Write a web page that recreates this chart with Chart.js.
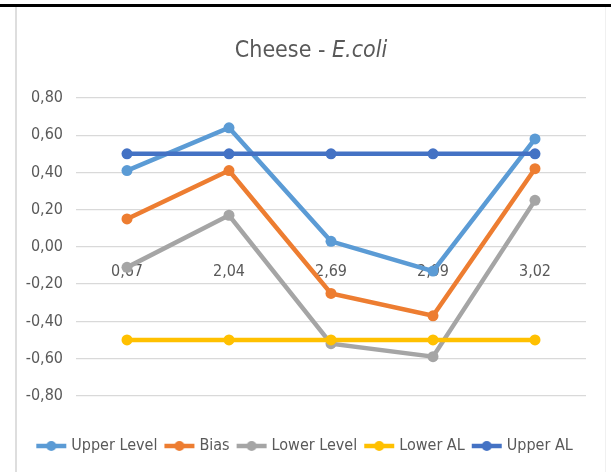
<!DOCTYPE html>
<html>
<head>
<meta charset="utf-8">
<script src="https://cdn.jsdelivr.net/npm/chart.js@4/dist/chart.umd.min.js"></script>
<style>
  html, body { margin: 0; padding: 0; background: #ffffff; }
  body { width: 611px; height: 472px; position: relative; overflow: hidden; }
  .topbar { position: absolute; left: 0; top: 4px; width: 611px; height: 3px; background: #000000; }
  .frame {
    position: absolute; left: 15px; top: 7px; width: 588px; height: 465px;
    border-left: 2px solid #dedede; border-right: 1px solid #f0f0f0;
  }
  .frame canvas { position: absolute; left: 0; top: 0; }
  .title {
    position: absolute; left: 0; right: 0; top: 27px; text-align: center;
    font-family: 'Liberation Sans Narrow', 'DejaVu Sans Condensed', sans-serif;
    font-size: 23px; line-height: 30px; color: #595959;
  }
</style>
</head>
<body>
<div class="topbar"></div>
<div class="frame">
  <canvas id="chart" width="588" height="465"></canvas>
  <div class="title">Cheese - <i>E.coli</i></div>
</div>
<script>
// Categories (x axis) and series values
const categories = ['0,67', '2,04', '2,69', '2,99', '3,02'];
const upperLevel = [0.41, 0.64, 0.03, -0.13, 0.58];
const bias       = [0.15, 0.41, -0.25, -0.37, 0.42];
const lowerLevel = [-0.11, 0.17, -0.52, -0.59, 0.25];
const lowerAL    = [-0.50, -0.50, -0.50, -0.50, -0.50];
const upperAL    = [0.50, 0.50, 0.50, 0.50, 0.50];
const seriesNames = ['Upper Level', 'Bias', 'Lower Level', 'Lower AL', 'Upper AL'];
const yTicks = [-0.8, -0.6, -0.4, -0.2, 0, 0.2, 0.4, 0.6, 0.8];

const colors = ['#5B9BD5', '#ED7D31', '#A5A5A5', '#FFC000', '#4472C4'];
const seriesValues = [upperLevel, bias, lowerLevel, lowerAL, upperAL];
const FONT = "'Liberation Sans Narrow', 'DejaVu Sans Condensed', sans-serif";

// Legend marker: short line with a dot in the middle
function lineMarker(color) {
  const c = document.createElement('canvas');
  c.width = 32; c.height = 12;
  const g = c.getContext('2d');
  g.strokeStyle = color; g.lineWidth = 4.5;
  g.beginPath(); g.moveTo(1, 6); g.lineTo(31, 6); g.stroke();
  g.fillStyle = color;
  g.beginPath(); g.arc(16, 6, 5, 0, Math.PI * 2); g.fill();
  return c;
}
const markers = colors.map(lineMarker);

const datasets = seriesNames.map((name, i) => ({
  label: name,
  data: seriesValues[i],
  borderColor: colors[i],
  backgroundColor: colors[i],
  pointBackgroundColor: colors[i],
  pointBorderColor: colors[i],
  borderWidth: 4.5,
  pointRadius: 5.5,
  pointBorderWidth: 0,
  tension: 0,
  // later series are painted on top
  order: seriesNames.length - i
}));

new Chart(document.getElementById('chart'), {
  type: 'line',
  data: { labels: categories, datasets },
  options: {
    responsive: false,
    animation: false,
    devicePixelRatio: 1,
    layout: { padding: { left: 9, right: 19, top: 91, bottom: 8 } },
    scales: {
      x: {
        position: { y: 0 },
        offset: true,
        grid: { display: false },
        border: { display: false },
        ticks: { color: '#595959', font: { family: FONT, size: 16 }, padding: 7, maxRotation: 0 }
      },
      y: {
        min: -0.8,
        max: 0.8,
        afterFit(scale) { scale.width = 50; },
        afterBuildTicks(scale) { scale.ticks = yTicks.map(v => ({ value: v })); },
        grid: { color: '#d9d9d9', lineWidth: 1.3, drawTicks: false },
        border: { display: false },
        ticks: {
          color: '#595959',
          font: { family: FONT, size: 16 },
          padding: 13,
          callback: v => v.toFixed(2).replace('.', ',')
        }
      }
    },
    plugins: {
      tooltip: { enabled: false },
      legend: {
        position: 'bottom',
        title: { display: true, text: '', font: { size: 1 }, padding: { top: 31, bottom: 0 } },
        labels: {
          usePointStyle: true,
          pointStyleWidth: 24,
          padding: 10,
          color: '#595959',
          font: { family: FONT, size: 16 },
          sort: (a, b) => a.datasetIndex - b.datasetIndex,
          generateLabels(chart) {
            const items = Chart.defaults.plugins.legend.labels.generateLabels(chart);
            items.forEach(it => { it.pointStyle = markers[it.datasetIndex]; });
            return items;
          }
        }
      }
    }
  }
});
</script>
</body>
</html>
